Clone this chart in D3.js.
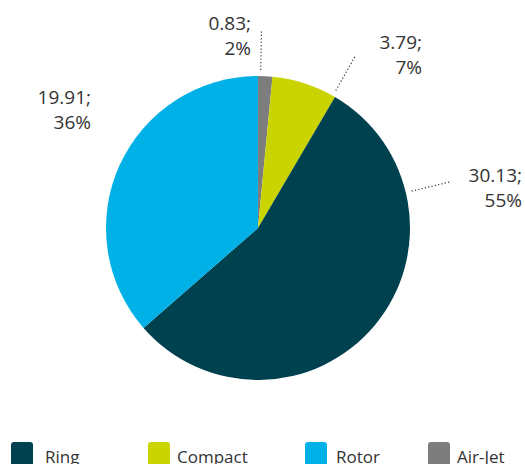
<!DOCTYPE html>
<html>
<head>
<meta charset="utf-8">
<script src="https://cdn.jsdelivr.net/npm/d3@7"></script>
<style>
  body { margin: 0; background: #fff; }
  text { font-family: "Open Sans", sans-serif; fill: #333; }
</style>
</head>
<body>
<svg id="chart" width="525" height="464"></svg>
<script>
// data, in drawing order (clockwise from 12 o'clock)
const categories = ["Air-Jet", "Compact", "Ring", "Rotor"];
const values = [0.83, 3.79, 30.13, 19.91];
const legendOrder = ["Ring", "Compact", "Rotor", "Air-Jet"];

const colors = {
  "Ring": "#004150",
  "Compact": "#c9d400",
  "Rotor": "#00b1e8",
  "Air-Jet": "#7d7d7d"
};

// label layout: leader angle (deg, null = no leader) and text anchor
const labelLayout = {
  "Air-Jet": {angle: 1, x: 251, y: 30},
  "Compact": {angle: 29.5, x: 422, y: 49},
  "Ring": {angle: 76.5, x: 522, y: 182},
  "Rotor": {angle: null, x: 91, y: 104}
};

const cx = 258, cy = 228, r = 152;
const svg = d3.select("#chart");

const total = d3.sum(values);
const pct = d3.format(".0%");
const data = categories.map((c, i) => ({name: c, value: values[i]}));

const pie = d3.pie().sort(null).value(d => d.value);
const arc = d3.arc().innerRadius(0).outerRadius(r);

const g = svg.append("g").attr("transform", `translate(${cx},${cy})`);

g.selectAll("path")
  .data(pie(data))
  .join("path")
  .attr("d", arc)
  .attr("fill", d => colors[d.data.name]);

// leader lines
const rad = a => (a * Math.PI) / 180;
data.forEach(d => {
  const l = labelLayout[d.name];
  if (l.angle === null) return;
  const a = rad(l.angle);
  g.append("line")
    .attr("x1", (r + 6) * Math.sin(a))
    .attr("y1", -(r + 6) * Math.cos(a))
    .attr("x2", (r + 46) * Math.sin(a))
    .attr("y2", -(r + 46) * Math.cos(a))
    .attr("stroke", "#333")
    .attr("stroke-width", 1.2)
    .attr("stroke-dasharray", "1.2,2.2");
});

// data labels
data.forEach(d => {
  const l = labelLayout[d.name];
  const t = svg.append("text")
    .attr("text-anchor", "end")
    .attr("font-size", 19);
  t.append("tspan").attr("x", l.x).attr("y", l.y).text(d.value.toFixed(2) + ";");
  t.append("tspan").attr("x", l.x).attr("y", l.y + 25).text(pct(d.value / total));
});

// legend: swatch x and text x
const legendPos = {
  "Ring": [11, 45],
  "Compact": [148, 177],
  "Rotor": [305, 336],
  "Air-Jet": [428, 457]
};
const lg = svg.append("g");
legendOrder.forEach(name => {
  const [sx, tx] = legendPos[name];
  lg.append("rect")
    .attr("x", sx).attr("y", 442)
    .attr("width", 22).attr("height", 24)
    .attr("rx", 3)
    .attr("fill", colors[name]);
  lg.append("text")
    .attr("x", tx).attr("y", 463)
    .attr("font-size", 17)
    .text(name);
});
</script>
</body>
</html>
